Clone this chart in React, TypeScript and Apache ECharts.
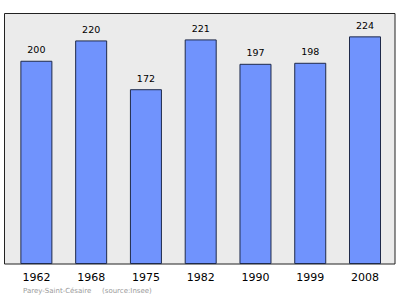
import React, { useEffect, useRef } from "react";
import * as echarts from "echarts";

const years = ["1962", "1968", "1975", "1982", "1990", "1999", "2008"];
const population = [200, 220, 172, 221, 197, 198, 224];
const footerName = "Parey-Saint-Césaire";
const footerSource = "(source:Insee)";

export default function App() {
  const ref = useRef<HTMLDivElement>(null);
  useEffect(() => {
    if (!ref.current) return;
    const chart = echarts.init(ref.current, null, { renderer: "svg" });
    chart.setOption({
      animation: false,
      backgroundColor: "#ffffff",
      grid: { left: 9, right: 7.6, top: 13, bottom: 35 },
      xAxis: {
        type: "category",
        data: years,
        axisLine: { show: false },
        axisTick: { show: false },
        axisLabel: {
          margin: 8,
          fontFamily: "DejaVu Sans",
          fontSize: 11,
          color: "#000",
        },
      },
      yAxis: {
        type: "value",
        min: 0,
        max: 247,
        show: false,
        splitLine: { show: false },
      },
      graphic: [
        {
          type: "rect",
          z: -10,
          shape: { x: 4.5, y: 13.5, width: 390.5, height: 250.5 },
          style: { fill: "#ebebeb", stroke: "#222", lineWidth: 1 },
          silent: true,
        },
        {
          type: "text",
          x: 23,
          y: 287.5,
          style: {
            text: footerName,
            fontFamily: "DejaVu Sans",
            fontSize: 7,
            fill: "#9a9a9a",
          },
        },
        {
          type: "text",
          x: 102,
          y: 287.5,
          style: {
            text: footerSource,
            fontFamily: "DejaVu Sans",
            fontSize: 7,
            fill: "#9a9a9a",
          },
        },
      ],
      series: [
        {
          type: "bar",
          data: population,
          barWidth: 32,
          itemStyle: {
            color: "#7093fd",
            borderColor: "#1f2a4a",
            borderWidth: 1,
          },
          label: {
            show: true,
            position: "top",
            distance: 6,
            fontFamily: "DejaVu Sans",
            fontSize: 9.5,
            color: "#000",
          },
        },
      ],
    });
    return () => chart.dispose();
  }, []);
  return (
    <div
      ref={ref}
      style={{ position: "absolute", left: 0, top: 0, width: 400, height: 299 }}
    />
  );
}
